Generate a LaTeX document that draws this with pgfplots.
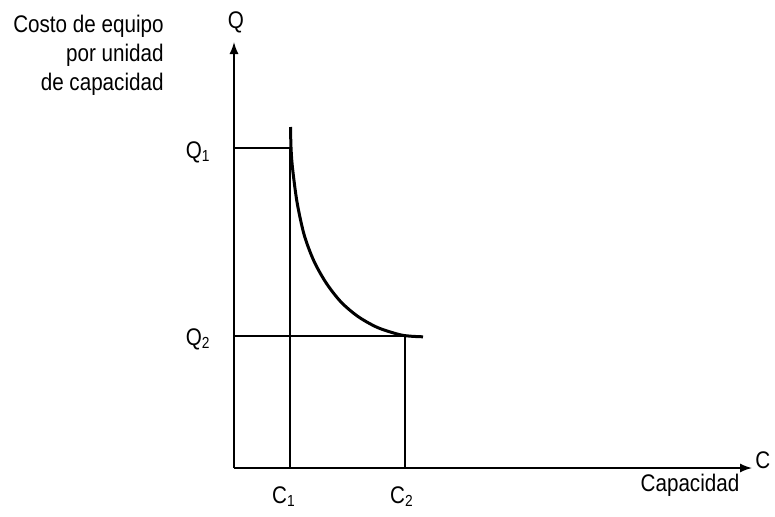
\documentclass[border=0pt]{standalone}
\usepackage{pgfplots}
\pgfplotsset{compat=1.18}
\usetikzlibrary{arrows.meta}
\usepackage{fontspec}
\setmainfont{Liberation Sans}[FakeStretch=0.86]
\begin{document}
\begin{tikzpicture}[font=\fontsize{12}{14}\selectfont]
\begin{axis}[hide axis, scale only axis, width=387.5pt, height=258pt,
  xmin=0, xmax=775, ymin=0, ymax=516, clip=false]
  \path (axis cs:0,0) rectangle (axis cs:775,516);
  % ejes
  \addplot[black, line width=0.75pt, -{Latex[length=6pt,width=4.5pt]}] coordinates {(234,48) (752,48)};
  \addplot[black, line width=0.75pt, -{Latex[length=6pt,width=4.5pt]}] coordinates {(234,48) (234,474)};
  % guias
  \addplot[black, line width=0.75pt] coordinates {(234,368) (290,368)};
  \addplot[black, line width=0.75pt] coordinates {(290,48) (290,368)};
  \addplot[black, line width=0.75pt] coordinates {(234,180) (405,180)};
  \addplot[black, line width=0.75pt] coordinates {(405,48) (405,180)};
  % curva
  \addplot[black, line width=1.5pt, smooth] coordinates {
    (290.5,389) (291,368.7) (292.4,349) (297,314) (304.2,281) (313.9,255)
    (326.2,233) (341,214) (358,199.5) (377.5,188.5) (399,181.5) (410.8,179.8)
    (423,179.2)};
  % textos
  \node[anchor=base] at (axis cs:236,488) {Q};
  \node[anchor=base west, inner sep=0pt] at (axis cs:755,48) {C};
  \node[anchor=base east, inner sep=0pt] at (axis cs:211,358) {Q\textsubscript{1}};
  \node[anchor=base east, inner sep=0pt] at (axis cs:211,171) {Q\textsubscript{2}};
  \node[anchor=base, inner sep=0pt] at (axis cs:284,13) {C\textsubscript{1}};
  \node[anchor=base, inner sep=0pt] at (axis cs:402,13) {C\textsubscript{2}};
  \node[anchor=base, inner sep=0pt] at (axis cs:690,25) {Capacidad};
  \node[anchor=base east, inner sep=0pt] at (axis cs:164,484) {Costo de equipo};
  \node[anchor=base east, inner sep=0pt] at (axis cs:164,455) {por unidad};
  \node[anchor=base east, inner sep=0pt] at (axis cs:164,426) {de capacidad};
\end{axis}
\end{tikzpicture}
\end{document}
